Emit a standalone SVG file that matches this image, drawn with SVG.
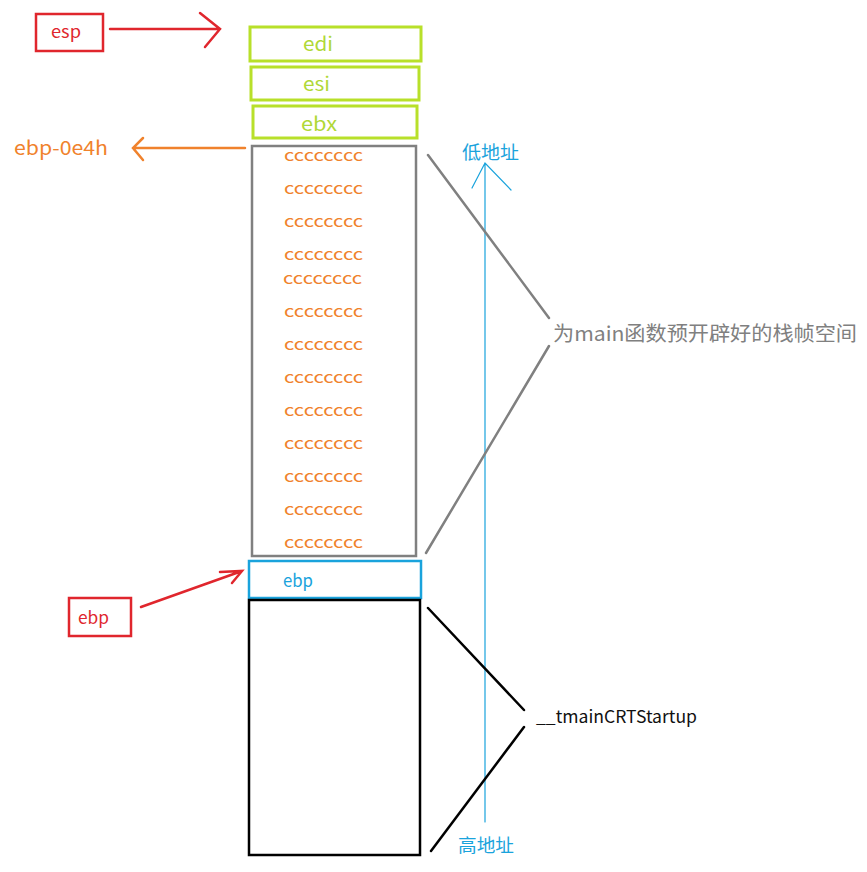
<svg xmlns="http://www.w3.org/2000/svg" width="867" height="872" viewBox="0 0 867 872">
<style>
text{font-family:"Noto Sans CJK SC","Open Sans","Liberation Sans",sans-serif;}
.red{fill:none;stroke:#e0262d;stroke-width:2.5}
.green{fill:none;stroke:#b8e02a;stroke-width:3}
.c{fill:#f0822c;font-size:16px}
.reg{font-size:19px;fill:#b0d838}
</style>
<rect width="867" height="872" fill="#fff"/>
<g id="esp">
<rect x="36" y="14" width="67" height="37" class="red"/>
<text x="51" y="38" font-size="17" fill="#e0262d" textLength="30" lengthAdjust="spacingAndGlyphs">esp</text>
</g>
<g id="edi"><rect x="250" y="27" width="171" height="34" class="green"/><text x="303" y="51" class="reg" textLength="30" lengthAdjust="spacingAndGlyphs">edi</text></g>
<g id="esi"><rect x="251" y="67" width="168" height="33" class="green"/><text x="303" y="91" class="reg" textLength="27" lengthAdjust="spacingAndGlyphs">esi</text></g>
<g id="ebx"><rect x="253" y="106" width="164" height="32" class="green"/><text x="301" y="131" class="reg" textLength="36" lengthAdjust="spacingAndGlyphs">ebx</text></g>
<g id="frame">
<rect x="252" y="146" width="164" height="410" fill="none" stroke="#808080" stroke-width="2.5"/>
<g class="c">
<text x="284" y="161" textLength="79" lengthAdjust="spacingAndGlyphs">cccccccc</text>
<text x="284" y="194" textLength="79" lengthAdjust="spacingAndGlyphs">cccccccc</text>
<text x="284" y="227" textLength="79" lengthAdjust="spacingAndGlyphs">cccccccc</text>
<text x="284" y="260" textLength="79" lengthAdjust="spacingAndGlyphs">cccccccc</text>
<text x="283" y="284" textLength="79" lengthAdjust="spacingAndGlyphs">cccccccc</text>
<text x="284" y="317" textLength="79" lengthAdjust="spacingAndGlyphs">cccccccc</text>
<text x="284" y="350" textLength="79" lengthAdjust="spacingAndGlyphs">cccccccc</text>
<text x="284" y="383" textLength="79" lengthAdjust="spacingAndGlyphs">cccccccc</text>
<text x="284" y="416" textLength="79" lengthAdjust="spacingAndGlyphs">cccccccc</text>
<text x="284" y="449" textLength="79" lengthAdjust="spacingAndGlyphs">cccccccc</text>
<text x="284" y="482" textLength="79" lengthAdjust="spacingAndGlyphs">cccccccc</text>
<text x="284" y="515" textLength="79" lengthAdjust="spacingAndGlyphs">cccccccc</text>
<text x="284" y="548" textLength="79" lengthAdjust="spacingAndGlyphs">cccccccc</text>
</g>
</g>
<g id="ebp-slot"><rect x="249" y="561" width="172" height="37" fill="none" stroke="#1aa3dc" stroke-width="2.5"/><text x="283" y="587" font-size="18" fill="#1aa3dc" textLength="30" lengthAdjust="spacingAndGlyphs">ebp</text></g>
<g id="crt-frame"><rect x="249" y="600" width="171" height="255" fill="none" stroke="#000" stroke-width="2.5"/></g>
<g id="ebp-label"><rect x="69" y="598" width="62" height="38" class="red"/><text x="78" y="624" font-size="17" fill="#e0262d" textLength="31" lengthAdjust="spacingAndGlyphs">ebp</text></g>
<g id="ebp-offset"><text x="14" y="155" font-size="19" fill="#f0822c" textLength="94" lengthAdjust="spacingAndGlyphs">ebp-0e4h</text></g>
<g id="low"><text x="462" y="159" font-size="18" fill="#1aa3dc" textLength="57" lengthAdjust="spacingAndGlyphs">低地址</text></g>
<g id="high"><text x="458" y="852" font-size="18" fill="#1aa3dc" textLength="56" lengthAdjust="spacingAndGlyphs">高地址</text></g>
<g id="frame-label"><text x="553" y="341" font-size="20" fill="#808080" textLength="304" lengthAdjust="spacingAndGlyphs">为main函数预开辟好的栈帧空间</text></g>
<g id="crt-label"><text x="536" y="723" font-size="17" fill="#111" textLength="161" lengthAdjust="spacingAndGlyphs">__tmainCRTStartup</text></g>
<g id="connectors" fill="none" stroke-linecap="round">
<path d="M110 29 H220 M200 13 L220 29 L205 47" stroke="#e0262d" stroke-width="2.5"/>
<path d="M245 148 H133 M143 138 L133 148 L143 160" stroke="#f0822c" stroke-width="2.5"/>
<path d="M141 607 L242 571 M220 572 L242 571 L232 583" stroke="#e0262d" stroke-width="2.5"/>
<path d="M485 822 V163 M472 188 L485 163 L511 190" stroke="#1aa3dc" stroke-width="1.2"/>
<path d="M428 155 L549 318 M549 346 L426 553" stroke="#808080" stroke-width="2.5"/>
<path d="M428 608 L524 710 M524 727 L431 851" stroke="#000" stroke-width="2.5"/>
</g>
</svg>
